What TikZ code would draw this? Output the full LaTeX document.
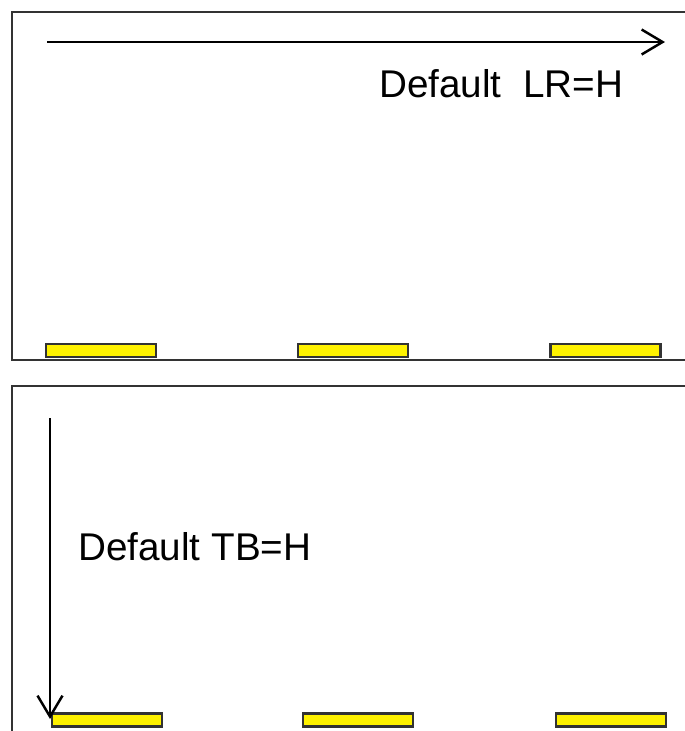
\documentclass[tikz,border=0pt]{standalone}
\usepackage{fontspec}
\setmainfont{Liberation Sans}
\usetikzlibrary{arrows.meta}
\begin{document}
\begin{tikzpicture}[x=0.02cm, y=-0.02cm, line width=1.4pt]

\tikzset{frame/.style={draw=black!80, line width=1.5pt}}
\tikzset{pad/.style={draw=black!80, fill=yellow, line width=1.4pt, minimum width=2.2cm, minimum height=0.26cm, inner sep=0pt}}
\tikzset{lbl/.style={inner sep=0pt, anchor=base west, font=\fontsize{22}{26}\selectfont}}
\tikzset{dir/.style={-{Straight Barb[length=0.42cm, width=0.5cm, line width=1.4pt]}}}

\useasboundingbox (0,0) rectangle (685,731);
\clip (0,0) rectangle (685,731);

% upper panel
\draw [frame] (12,12) rectangle (720,360);
\node [pad] (a1) at (101,350.5) {};
\node [pad] (a2) at (353,350.5) {};
\node [pad] (a3) at (605.5,350.5) {};
\coordinate (lrs) at (47,42);
\coordinate (lre) at (665,42);
\draw [dir] (lrs) -- (lre);
\node [lbl] (lr) at (378,97) {Default\ \ LR=H};

% lower panel
\draw [frame] (12,386) rectangle (720,760);
\node [pad] (b1) at (107,720) {};
\node [pad] (b2) at (358,720) {};
\node [pad] (b3) at (611,720) {};
\coordinate (tbs) at (50,418);
\coordinate (tbe) at (50,719);
\draw [dir] (tbs) -- (tbe);
\node [lbl] (tb) at (77,560) {Default TB=H};
\end{tikzpicture}
\end{document}
